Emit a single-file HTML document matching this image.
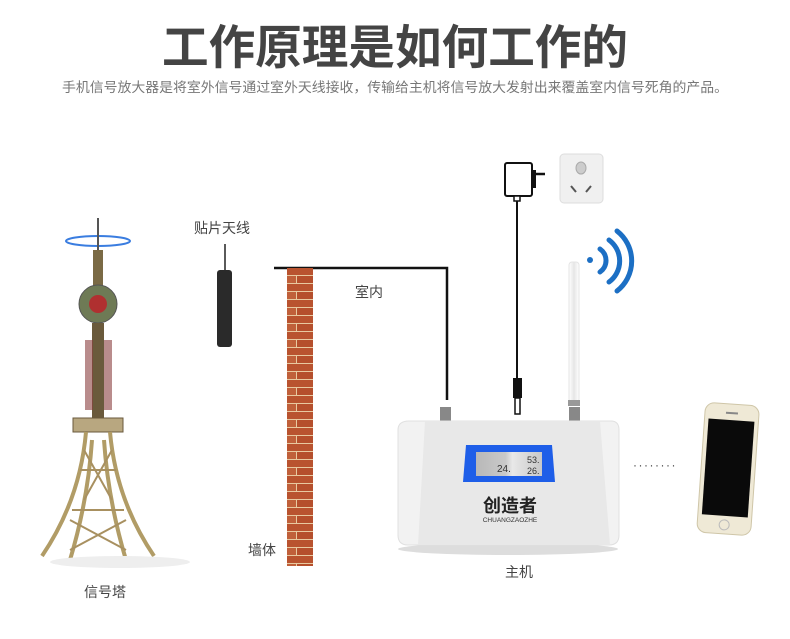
<!DOCTYPE html>
<html><head><meta charset="utf-8"><style>
html,body{margin:0;padding:0;background:#fff;width:790px;height:639px;overflow:hidden}
svg{display:block}
text{font-family:"Liberation Sans","Noto Sans CJK SC",sans-serif}
</style></head><body>
<svg width="790" height="639" viewBox="0 0 790 639" xmlns="http://www.w3.org/2000/svg">
<defs>
<pattern id="brick" x="287" y="268" width="26" height="16" patternUnits="userSpaceOnUse">
<rect width="26" height="16" fill="#e8c9a0"/>
<rect x="0" y="0" width="26" height="7" fill="#b9532f"/>
<rect x="0" y="8" width="9" height="7" fill="#c0603a"/>
<rect x="10" y="8" width="16" height="7" fill="#b54f2c"/>
</pattern>
<linearGradient id="ant" x1="0" x2="1"><stop offset="0" stop-color="#fff"/><stop offset=".5" stop-color="#e6e6e6"/><stop offset="1" stop-color="#fff"/></linearGradient>
<linearGradient id="scr" x1="0" x2="1"><stop offset="0" stop-color="#b8b8b8"/><stop offset=".45" stop-color="#c9c9c9"/><stop offset=".55" stop-color="#e8e8e8"/><stop offset="1" stop-color="#c8c8c8"/></linearGradient>
</defs>

<text x="395" y="64" font-size="47" font-weight="bold" fill="#444" text-anchor="middle" textLength="466" lengthAdjust="spacingAndGlyphs">工作原理是如何工作的</text>
<text x="395" y="92" font-size="13.5" fill="#777" text-anchor="middle" textLength="666" lengthAdjust="spacingAndGlyphs">手机信号放大器是将室外信号通过室外天线接收，传输给主机将信号放大发射出来覆盖室内信号死角的产品。</text>

<!-- tower -->
<g stroke="#8a7a50" fill="none">
<ellipse cx="98" cy="241" rx="32" ry="5" stroke="#3a7de0" stroke-width="2"/>
<line x1="98" y1="218" x2="98" y2="330" stroke="#555" stroke-width="2"/>
<rect x="93" y="250" width="10" height="40" fill="#7a6a45" stroke="none"/>
<circle cx="98" cy="304" r="19" fill="#6e7a55" stroke="#555"/>
<circle cx="98" cy="304" r="9" fill="#b03030" stroke="none"/>
<rect x="92" y="323" width="12" height="100" fill="#6a5a3c" stroke="none"/>
<rect x="85" y="340" width="8" height="70" fill="#8a4040" stroke="none" opacity=".6"/>
<rect x="104" y="340" width="8" height="70" fill="#8a4040" stroke="none" opacity=".6"/>
<rect x="73" y="418" width="50" height="14" fill="#b8a780" stroke="#6a5a3c"/>
<path d="M86 432 Q80 500 42 556 M110 432 Q116 500 154 556 M92 440 Q88 500 70 560 M104 440 Q108 500 126 560" stroke="#b19c66" stroke-width="4"/>
<path d="M80 470 L116 470 M72 510 L124 510 M84 450 L112 500 M112 450 L84 500 M70 520 L126 550 M126 520 L70 550" stroke="#a89060" stroke-width="2"/>
</g>
<ellipse cx="120" cy="562" rx="70" ry="6" fill="#eee"/>
<text x="105" y="597" font-size="14" fill="#444" text-anchor="middle">信号塔</text>

<!-- patch antenna -->
<text x="222" y="233" font-size="14" fill="#444" text-anchor="middle">贴片天线</text>
<line x1="225" y1="244" x2="225" y2="272" stroke="#222" stroke-width="1.5"/>
<rect x="217" y="270" width="15" height="77" rx="3" fill="#2a2a2a"/>

<!-- cable -->
<polyline points="274,268 447,268 447,400" fill="none" stroke="#111" stroke-width="2.5"/>
<text x="369" y="297" font-size="14" fill="#444" text-anchor="middle">室内</text>

<!-- wall -->
<rect x="287" y="268" width="26" height="298" fill="url(#brick)"/>
<text x="262" y="555" font-size="14" fill="#444" text-anchor="middle">墙体</text>

<!-- adapter & socket -->
<rect x="505" y="163" width="27" height="33" rx="2" fill="#fff" stroke="#111" stroke-width="2"/>
<rect x="532" y="170" width="4" height="18" fill="#111"/>
<line x1="536" y1="174" x2="545" y2="174" stroke="#111" stroke-width="2.5"/>
<rect x="514" y="196" width="6" height="5" fill="#fff" stroke="#111" stroke-width="1.5"/>
<line x1="517" y1="201" x2="517" y2="380" stroke="#111" stroke-width="2"/>
<rect x="513" y="378" width="9" height="20" fill="#111"/>
<rect x="515" y="398" width="5" height="16" fill="#fff" stroke="#111" stroke-width="1.5"/>
<rect x="560" y="154" width="43" height="49" rx="4" fill="#f0f0f0" stroke="#ddd"/>
<ellipse cx="581" cy="168" rx="5" ry="6" fill="#ccc" stroke="#aaa"/>
<line x1="571" y1="186" x2="576" y2="192" stroke="#555" stroke-width="2"/>
<line x1="591" y1="186" x2="586" y2="192" stroke="#555" stroke-width="2"/>

<!-- wifi -->
<g fill="none" stroke="#1c6fc4" stroke-linecap="round">
<circle cx="590" cy="260" r="3" fill="#1c6fc4" stroke="none"/>
<path d="M600 249 A14 14 0 0 1 600 272" stroke-width="5"/>
<path d="M609 240 A26 26 0 0 1 609 282" stroke-width="5"/>
<path d="M617 231 A38 38 0 0 1 617 291" stroke-width="5"/>
</g>

<!-- device antenna -->
<rect x="569" y="262" width="10" height="140" rx="3" fill="url(#ant)" stroke="#e4e4e4"/>
<rect x="568" y="400" width="12" height="6" fill="#999"/>
<rect x="569" y="407" width="11" height="14" fill="#888"/>
<rect x="440" y="407" width="11" height="14" fill="#888"/>

<!-- device -->
<ellipse cx="508" cy="549" rx="110" ry="6" fill="#ddd"/>
<path d="M409 421 L611 421 Q619 421 619 430 L619 535 Q619 545 609 545 L408 545 Q398 545 398 535 L398 430 Q398 421 409 421 Z" fill="#f2f2f2" stroke="#e0e0e0"/>
<path d="M425 421 L600 421 L610 545 L418 545 Z" fill="#e8e8e8"/>
<path d="M466 445 L552 445 L555 482 L463 482 Z" fill="#1e5ee8"/>
<rect x="476" y="452" width="66" height="24" fill="url(#scr)"/>
<text x="497" y="472" font-size="10" fill="#333" font-family="Liberation Mono,monospace">24.</text>
<text x="527" y="463" font-size="9" fill="#333" font-family="Liberation Mono,monospace">53.</text>
<text x="527" y="474" font-size="9" fill="#333" font-family="Liberation Mono,monospace">26.</text>
<text x="510" y="512" font-size="18" font-weight="bold" fill="#222" text-anchor="middle">创造者</text>
<text x="510" y="522" font-size="6.5" fill="#333" text-anchor="middle">CHUANGZAOZHE</text>
<text x="519" y="577" font-size="14" fill="#444" text-anchor="middle">主机</text>

<!-- dots -->
<text x="655" y="469" font-size="12" fill="#444" text-anchor="middle" letter-spacing="1.5">········</text>

<!-- phone -->
<g transform="rotate(4 728 470)">
<rect x="701" y="404" width="54" height="130" rx="9" fill="#efe9d6" stroke="#cfc6a8"/>
<rect x="705" y="420" width="46" height="96" fill="#0a0a0a"/>
<circle cx="728" cy="525" r="5" fill="none" stroke="#bbb"/>
<rect x="722" y="412" width="12" height="2" fill="#888"/>
</g>
</svg>
</body></html>
